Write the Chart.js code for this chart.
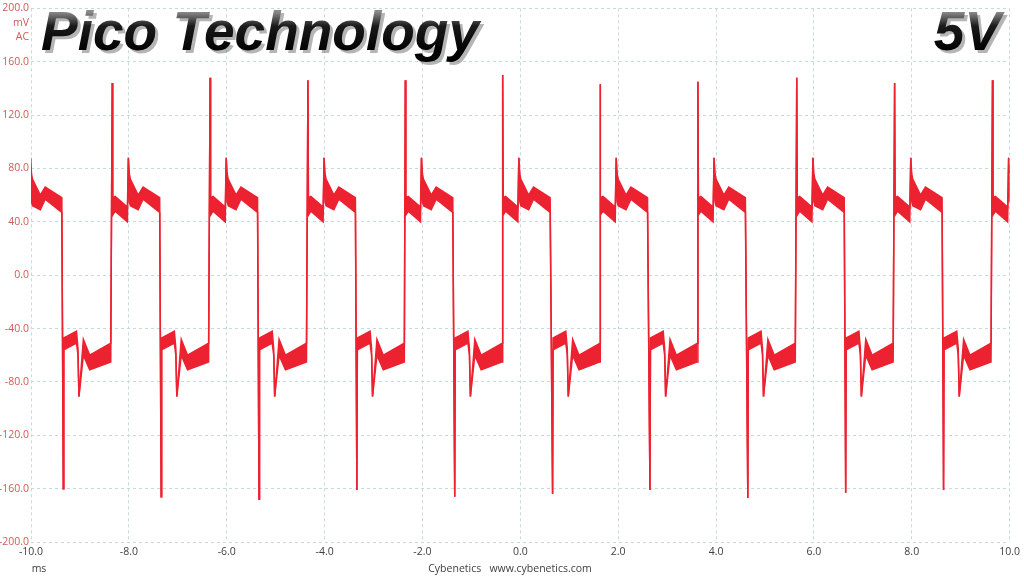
<!DOCTYPE html>
<html>
<head>
<meta charset="utf-8">
<title>Pico Technology 5V ripple</title>
<script src="https://cdn.jsdelivr.net/npm/chart.js@4.4.1/dist/chart.umd.min.js"></script>
<style>
  html, body { margin: 0; padding: 0; background: #fff; }
  #wrap { width: 1024px; height: 576px; position: relative; }
</style>
</head>
<body>
<div id="wrap"><canvas id="scope"></canvas></div>
<script>
// tick labels
const xTicks = [-10, -8, -6, -4, -2, 0, 2, 4, 6, 8, 10];
const yTicks = [-200, -160, -120, -80, -40, 0, 40, 80, 120, 160, 200];

// edge times (ms)
const riseTimes = [-10.34, -8.34, -6.34, -4.34, -2.35, -0.36, 1.63, 3.63, 5.65, 7.65, 9.65];
const fallTimes = [-9.34, -7.34, -5.34, -3.34, -1.34, 0.66, 2.65, 4.65, 6.65, 8.65];

// spike peaks at each edge (mV)
const riseSpikes = [145, 144, 148, 146, 146, 150, 143, 145, 148, 144, 146];
const fallSpikes = [-160, -166, -168, -161, -166, -164, -161, -167, -163, -161];

// shape of the high half, measured from the rising edge (ms offset, band top, band bottom)
const hiOffset = [0.01, 0.06, 0.31, 0.33, 0.35, 0.37, 0.53, 0.63, 0.97];
const hiTop    = [58, 59, 51, 88, 76, 72, 60, 66, 58];
const hiBottom = [45, 48, 40, 88, 55, 52, 49, 57, 47];

// shape of the low half, measured from the falling edge
const loOffset = [0.01, 0.27, 0.30, 0.32, 0.41, 0.54, 0.97];
const loTop    = [-47, -42, -55, -91, -48, -60, -51];
const loBottom = [-56, -51, -60, -91, -60, -71, -65];

const traceRed = 'rgb(236, 34, 48)';

// build the upper / lower envelope of the noisy trace
const upper = [];
const lower = [];
riseTimes.forEach((t0, i) => {
  upper.push({ x: t0, y: riseSpikes[i] });
  lower.push({ x: t0, y: riseSpikes[i] });
  hiOffset.forEach((d, k) => {
    upper.push({ x: t0 + d, y: hiTop[k] });
    lower.push({ x: t0 + d, y: hiBottom[k] });
  });
  const tf = fallTimes[i];
  if (tf === undefined) return;
  upper.push({ x: tf, y: fallSpikes[i] });
  lower.push({ x: tf, y: fallSpikes[i] });
  loOffset.forEach((d, k) => {
    upper.push({ x: tf + d, y: loTop[k] });
    lower.push({ x: tf + d, y: loBottom[k] });
  });
});

// titles + side labels
const overlay = {
  id: 'overlay',
  afterDraw(chart) {
    const ctx = chart.ctx;
    ctx.save();
    ctx.font = 'italic bold 55px "Liberation Sans", Arial, sans-serif';
    ctx.textBaseline = 'alphabetic';
    const drawBig = (txt, x, align) => {
      ctx.textAlign = align;
      ctx.fillStyle = 'rgba(90,90,90,0.45)';
      ctx.fillText(txt, x + 3, 53);
      const g = ctx.createLinearGradient(0, 12, 0, 52);
      g.addColorStop(0, '#8a8a8a');
      g.addColorStop(0.35, '#1a1a1a');
      g.addColorStop(1, '#000');
      ctx.fillStyle = g;
      ctx.fillText(txt, x, 50);
    };
    drawBig('Pico Technology', 41, 'left');
    drawBig('5V', 1001, 'right');

    ctx.font = '10.5px "Open Sans", "Noto Sans", sans-serif';
    ctx.textBaseline = 'middle';
    ctx.fillStyle = '#d05a55';
    ctx.textAlign = 'right';
    ctx.fillText('mV', 29, 23);
    ctx.fillText('AC', 29, 37);
    ctx.fillStyle = '#404040';
    ctx.textAlign = 'center';
    ctx.fillText('ms', 39, 569);
    ctx.fillText('Cybenetics   www.cybenetics.com', 510, 569);
    ctx.restore();
  }
};

const gridStyle = {
  color: '#c5dadf',
  lineWidth: 1,
  drawTicks: false
};

new Chart(document.getElementById('scope'), {
  type: 'line',
  data: {
    datasets: [
      {
        label: 'upper',
        data: upper,
        borderColor: traceRed,
        backgroundColor: traceRed,
        borderWidth: 1.5,
        pointRadius: 0,
        tension: 0,
        fill: '+1'
      },
      {
        label: 'lower',
        data: lower,
        borderColor: traceRed,
        backgroundColor: traceRed,
        borderWidth: 1.5,
        pointRadius: 0,
        tension: 0,
        fill: false
      }
    ]
  },
  options: {
    responsive: true,
    maintainAspectRatio: false,
    animation: false,
    layout: { padding: { left: 0, top: 8, right: 14, bottom: 0 } },
    plugins: {
      legend: { display: false },
      tooltip: { enabled: false },
      filler: { propagate: false }
    },
    scales: {
      x: {
        type: 'linear',
        min: -10,
        max: 10,
        afterFit: s => { s.height = 34; },
        afterBuildTicks: s => { s.ticks = xTicks.map(v => ({ value: v })); },
        grid: gridStyle,
        border: { display: false, dash: [3, 3] },
        ticks: {
          color: '#404040',
          padding: 4,
          maxRotation: 0,
          font: { family: '"Open Sans", "Noto Sans", sans-serif', size: 10.5 },
          callback: v => v.toFixed(1)
        }
      },
      y: {
        min: -200,
        max: 200,
        afterFit: s => { s.width = 31; },
        afterBuildTicks: s => { s.ticks = yTicks.map(v => ({ value: v })); },
        grid: gridStyle,
        border: { display: false, dash: [3, 3] },
        ticks: {
          color: '#d05a55',
          padding: 2,
          font: { family: '"Open Sans", "Noto Sans", sans-serif', size: 10.5 },
          callback: v => v.toFixed(1)
        }
      }
    }
  },
  plugins: [overlay]
});
</script>
</body>
</html>
